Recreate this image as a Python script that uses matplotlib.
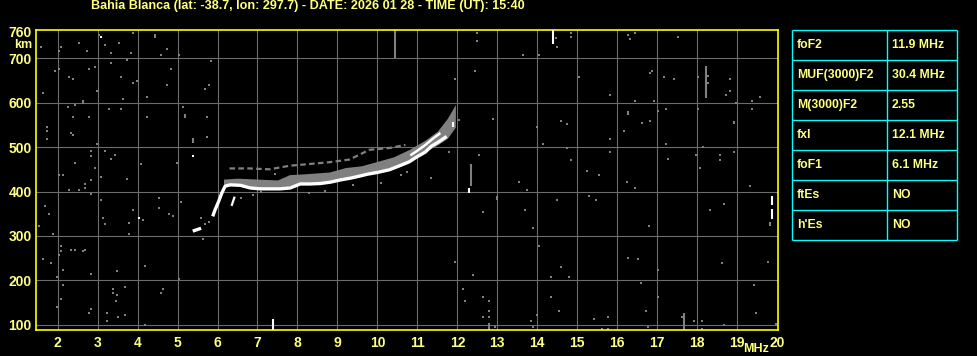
import numpy as np
import matplotlib.pyplot as plt

# station / header
title = 'Bahia Blanca (lat: -38.7, lon: 297.7) - DATE: 2026 01 28 - TIME (UT): 15:40'

# scaled parameters table
param_names = ['foF2', 'MUF(3000)F2', 'M(3000)F2', 'fxI', 'foF1', 'ftEs', "h'Es"]
param_values = ['11.9 MHz', '30.4 MHz', '2.55', '12.1 MHz', '6.1 MHz', 'NO', 'NO']

# axes ticks
freq_ticks = list(range(2, 21))
height_ticks = [100, 200, 300, 400, 500, 600, 700, 760]
freq_grid = list(range(2, 20))
height_grid = [100, 200, 300, 400, 500, 600, 700]

# O-mode trace (white), MHz / km
o_freq = [5.88, 5.94, 6.03, 6.11, 6.19, 6.32, 6.57, 6.82, 7.07, 7.32, 7.57, 7.82, 8.07, 8.32,
          8.57, 8.82, 9.07, 9.32, 9.57, 9.75, 10.0, 10.3, 10.5, 10.8, 10.95, 11.2, 11.35, 11.55, 11.73]
o_height = [344, 359, 378, 397, 412, 415, 414, 408, 406, 406, 406, 408, 417, 417,
            418, 421, 426, 430, 435, 439, 443, 449, 456, 467, 476, 489, 502, 513, 524]

# X-mode trace (white, upper branch near foF2)
x_freq = [10.85, 11.0, 11.2, 11.4, 11.55]
x_height = [483, 492, 505, 520, 530]

# low blob and hook
blob_freq = [5.42, 5.55]
blob_height = [312, 316]
hook_freq = [6.36, 6.42]
hook_height = [370, 386]

# grey echo band above the trace
band_freq = [6.15, 6.5, 7.0, 7.5, 7.8, 8.2, 8.8, 9.2, 9.6, 10.0, 10.4, 10.8, 11.2, 11.5, 11.75, 11.95]
band_lo = [412, 415, 408, 408, 412, 420, 422, 428, 438, 446, 456, 470, 490, 505, 520, 545]
band_hi = [428, 430, 428, 426, 438, 440, 444, 454, 458, 468, 478, 495, 516, 536, 565, 596]

# faint grey echoes higher up
faint_freq = [6.3, 6.8, 7.3, 7.8, 8.3, 8.8, 9.3, 9.8, 10.3, 10.7]
faint_height = [452, 452, 450, 458, 462, 466, 472, 494, 498, 505]

# scattered grey noise pixels
noise_freq = [1.59, 2.09, 2.03, 2.53, 2.74, 3.03, 3.19, 3.54, 3.88, 3.34, 3.84, 4.73, 4.59, 5.03,
              3.73, 3.34, 5.83, 1.94, 2.03, 2.28, 2.38, 2.78, 2.94, 3.59, 3.88, 3.98, 4.84, 4.73,
              5.78, 5.68, 1.63, 2.98, 3.63, 4.23, 2.26, 2.44, 3.29, 3.59, 5.13, 5.73, 4.24, 2.38,
              2.78, 1.74, 1.74, 1.74, 2.34, 2.38, 5.73, 2.98, 2.84, 3.19, 3.44, 3.34, 2.44, 2.83,
              4.09, 4.98, 2.94, 2.03, 2.13, 3.08, 3.74, 2.84,
              2.69, 2.69, 2.28, 2.53, 2.83, 1.68, 1.78, 1.53, 1.88, 3.08, 3.13, 3.19, 3.78, 3.78,
              3.88, 4.13, 4.54, 4.54, 5.09, 4.79, 4.89, 5.58, 5.68, 5.78, 5.63, 2.09, 2.09, 2.03,
              2.34, 2.44, 2.69, 2.63, 1.63, 1.83, 2.13, 2.84, 3.49, 4.19, 5.03, 1.99, 2.13, 2.09,
              1.99, 3.39, 3.69, 3.39, 3.49, 3.47, 4.63, 4.59, 2.84, 2.79, 3.24, 3.69, 3.52, 3.24, 4.19,
              12.49, 12.49, 14.84, 14.84, 14.47, 14.49, 16.28, 16.33, 16.44, 17.53, 13.64, 14.03,
              12.44, 11.94, 15.04, 16.83, 16.88, 17.18, 17.43, 18.28, 18.28, 18.03, 18.83, 18.83,
              18.73, 19.58, 19.38, 19.38, 15.83, 16.44, 16.93, 17.03, 17.23, 18.03, 18.98, 16.63,
              16.83, 16.18, 15.83, 14.58, 14.73, 13.98, 12.89, 14.13, 14.73, 15.83, 14.84, 15.24,
              15.54, 17.21, 17.28, 18.14, 17.98, 18.58, 18.58, 18.93, 18.08, 12.54, 11.33, 10.73,
              13.54, 13.74, 14.49, 15.28, 15.48, 16.24, 16.44, 19.33, 13.69, 12.63, 13.88, 14.03,
              18.33, 18.68, 16.8, 19.83, 11.94, 12.39, 14.58, 14.33, 14.78, 16.28, 16.53, 17.03,
              18.63, 19.78, 16.59, 17.03, 19.43, 19.48, 12.13, 12.18, 12.63, 12.78, 12.78, 12.63,
              12.78, 12.93, 13.88, 13.98, 13.83, 14.33, 14.53, 15.43, 15.78, 15.63, 15.78, 16.73,
              16.78, 17.63, 17.93, 18.13, 18.13, 18.68, 19.98,
              6.6, 6.9, 7.1, 8.3, 8.7, 9.4, 10.1, 10.6, 11.8, 12.05, 6.75, 7.45]
noise_height = [725, 725, 716, 734, 716, 752, 729, 734, 756, 711, 711, 720, 707, 707,
                696, 689, 694, 671, 676, 658, 653, 676, 680, 658, 644, 649, 676, 640,
                640, 631, 622, 626, 608, 613, 591, 595, 586, 586, 591, 568, 568, 568,
                568, 546, 537, 519, 531, 528, 523, 506, 492, 492, 483, 474, 465, 479,
                461, 465, 452, 438, 438, 432, 429, 426,
                417, 408, 403, 403, 394, 368, 350, 323, 305, 381, 341, 327, 329, 305,
                359, 336, 385, 363, 377, 350, 345, 341, 327, 332, 292, 278, 265, 256,
                269, 269, 269, 265, 247, 238, 224, 215, 220, 233, 202, 207, 189, 157,
                139, 180, 184, 171, 166, 153, 180, 171, 135, 126, 126, 122, 117, 108, 99,
                756, 738, 756, 747, 746, 725, 752, 743, 756, 747, 707, 707,
                671, 653, 658, 667, 671, 658, 653, 660, 645, 658, 653, 626,
                617, 613, 604, 586, 617, 604, 604, 582, 586, 586, 600, 555,
                559, 537, 519, 559, 553, 546, 564, 506, 497, 488, 470, 447,
                438, 506, 474, 501, 483, 483, 470, 488, 452, 483, 430, 443,
                421, 403, 381, 390, 381, 421, 408, 412, 359, 354, 318, 278,
                359, 372, 323, 326, 242, 211, 229, 207, 207, 251, 247, 224,
                238, 242, 193, 162, 189, 126, 180, 153, 162, 153, 131, 117,
                117, 95, 95, 122, 108, 162, 130, 113, 117, 90, 90, 130,
                95, 117, 108, 108, 90, 99, 102,
                385, 392, 398, 396, 402, 414, 419, 437, 488, 560, 425, 440]

# white noise pixels
spot_freq = [3.09, 5.39, 4.03]
spot_height = [748, 479, 341]

# vertical streaks (interference)
white_streak_freq = [14.39, 19.87, 19.87, 7.39, 12.28, 11.9]
white_streak_lo = [732, 339, 370, 88, 397, 546]
white_streak_hi = [765, 360, 391, 113, 408, 557]
grey_streak_freq = [10.43, 18.23, 17.68, 12.78, 12.98, 12.33, 4.44, 2.63, 16.28, 18.93, 5.19, 5.38, 19.83]
grey_streak_lo = [700, 611, 88, 88, 380, 412, 745, 598, 573, 551, 566, 510, 322]
grey_streak_hi = [765, 682, 126, 104, 391, 462, 755, 606, 581, 559, 574, 520, 332]

W, H = 978, 356
YEL = '#ffff00'
TXT = '#ffff80'
GRID = '#6c6c6c'
GREY = '#808080'
FONT = 'Liberation Sans'

fig = plt.figure(figsize=(W / 100, H / 100), dpi=100, facecolor='black')
ax = fig.add_axes([36 / W, 1 - 330 / H, 742 / W, 300.5 / H])
ax.set_facecolor('black')
ax.set_xlim(1.46, 20.02)
ax.set_ylim(88, 765)

ax.vlines(freq_grid, 88, 765, color=GRID, lw=0.8, zorder=0)
ax.hlines(height_grid, 1.46, 20.02, color=GRID, lw=0.8, zorder=0)

ax.fill_between(band_freq, band_lo, band_hi, color=GREY, lw=0, zorder=2)
ax.plot(faint_freq, faint_height, color=GREY, lw=1.6, ls=(0, (2.5, 1.5)), zorder=2)
ax.plot(o_freq, o_height, color='white', lw=2.4, solid_capstyle='butt', zorder=3)
ax.plot(x_freq, x_height, color='white', lw=1.8, zorder=3)
ax.plot(blob_freq, blob_height, color='white', lw=2.4, zorder=3)
ax.plot(hook_freq, hook_height, color='white', lw=1.6, zorder=3)

ax.vlines(grey_streak_freq, grey_streak_lo, grey_streak_hi, color=GREY, lw=1.5, zorder=2)
ax.vlines(white_streak_freq, white_streak_lo, white_streak_hi, color='white', lw=1.5, zorder=3)
ax.scatter(noise_freq, noise_height, s=2.1, marker='s', c=GREY, linewidths=0, zorder=2)
ax.scatter(spot_freq, spot_height, s=2.1, marker='s', c='white', linewidths=0, zorder=3)

ax.set_xticks(freq_ticks)
ax.set_xticklabels([str(t) for t in freq_ticks])
ax.set_yticks(height_ticks)
ax.set_yticklabels([str(t) for t in height_ticks])
ax.tick_params(length=0, colors=TXT, labelsize=10)
ax.tick_params(axis='x', pad=4)
ax.tick_params(axis='y', pad=3)
for lab in ax.get_xticklabels() + ax.get_yticklabels():
    lab.set_fontfamily(FONT)
    lab.set_fontweight('bold')
for sp in ax.spines.values():
    sp.set_color(YEL)
    sp.set_linewidth(1.2)

# overlay in pixel coordinates for header, units and table
ov = fig.add_axes([0, 0, 1, 1])
ov.set_xlim(0, W)
ov.set_ylim(H, 0)
ov.axis('off')
ov.patch.set_visible(False)

ov.text(91, 6.5, title, color=TXT, fontsize=9.1, fontweight='bold', family=FONT, va='center', ha='left')
ov.text(32, 44.5, 'km', color=TXT, fontsize=9, fontweight='bold', family=FONT, va='center', ha='right')
ov.text(743, 349, 'MHz', color=TXT, fontsize=9, fontweight='bold', family=FONT, va='center', ha='left')

tx0, tx1, tmid = 792, 957, 887
ty0, row_h = 30, 30
rows = len(param_names)
ov.hlines([ty0 + i * row_h for i in range(rows + 1)], tx0, tx1, color='#00ffff', lw=1.0)
ov.vlines([tx0, tmid, tx1], ty0, ty0 + rows * row_h, color='#00ffff', lw=1.0)
for i, (name, val) in enumerate(zip(param_names, param_values)):
    yc = ty0 + i * row_h + row_h / 2
    ov.text(tx0 + 5, yc, name, color=TXT, fontsize=8.8, fontweight='bold', family=FONT, va='center')
    ov.text(tmid + 5, yc, val, color=TXT, fontsize=8.8, fontweight='bold', family=FONT, va='center')

fig.savefig('out.png', dpi=100, facecolor='black')
